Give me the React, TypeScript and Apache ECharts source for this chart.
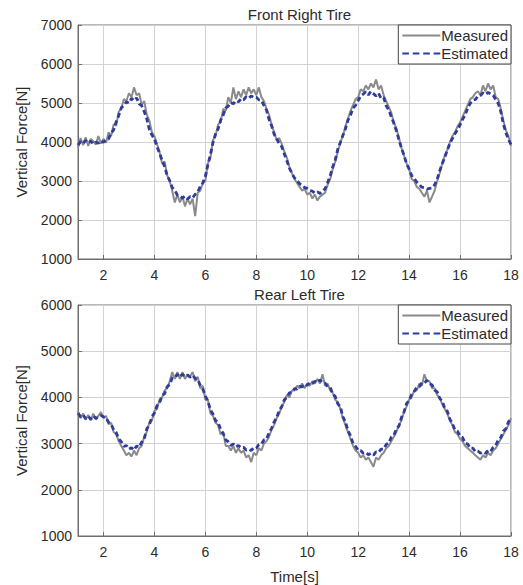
import React, { useEffect, useRef } from "react";
import * as echarts from "echarts";

// Sampling: t = 1.0 .. 18.0 s, step 0.1 s
const T_START = 1;
const T_STEP = 0.1;

const X_TICKS = [2, 4, 6, 8, 10, 12, 14, 16, 18];

const TITLE_TOP = "Front Right Tire";
const TITLE_BOTTOM = "Rear Left Tire";
const LEGEND_NAMES = ["Measured", "Estimated"];

// Front Right Tire — measured vertical force [N]
const FR_MEAS = [
  3850, 4100, 3920, 4120, 3900, 4080, 4020, 3930, 4150, 3960,
  4080, 3980, 4250, 4150, 4450, 4420, 4780, 4850, 5100, 5050,
  5250, 5150, 5400, 5200, 5250, 4950, 5050, 4700, 4550, 4250,
  4150, 3950, 3750, 3450, 3500, 3150, 3000, 2750, 2450, 2650,
  2450, 2600, 2350, 2550, 2400, 2550, 2100, 2700, 2750, 2950,
  3000, 3450, 3600, 4050, 4150, 4450, 4500, 4850, 4800, 5150,
  5000, 5400, 5100, 5300, 5150, 5350, 5200, 5400, 5250, 5350,
  5200, 5400, 5150, 5050, 4850, 4700, 4450, 4250, 4050, 4100,
  3950, 3750, 3600, 3350, 3200, 3050, 2950, 2850, 2750, 2800,
  2650, 2700, 2550, 2650, 2500, 2600, 2650, 2700, 2900, 3050,
  3300, 3500, 3750, 4000, 4150, 4400, 4600, 4800, 4950, 5100,
  5150, 5350, 5300, 5450, 5350, 5500, 5400, 5600, 5350, 5450,
  5200, 5050, 4900, 4750, 4500, 4350, 4100, 3850, 3650, 3450,
  3300, 3050, 3000, 2850, 2800, 2700, 2600, 2750, 2450, 2600,
  2750, 3000, 3200, 3450, 3650, 3800, 4000, 4150, 4250, 4400,
  4500, 4650, 4800, 4950, 5100, 5150, 5250, 5300, 5200, 5450,
  5300, 5500, 5350, 5450, 5150, 5100, 4850, 4550, 4300, 4150,
  3900,
];

// Front Right Tire — estimated vertical force [N]
const FR_EST = [
  3920, 4010, 3960, 4040, 3980, 4020, 3950, 4000, 3970, 4030,
  3990, 4060, 4080, 4230, 4310, 4520, 4680, 4880, 4930, 5030,
  5000, 5120, 5060, 5130, 4980, 4930, 4780, 4600, 4320, 4180,
  4080, 3880, 3720, 3530, 3370, 3140, 3010, 2830, 2760, 2640,
  2620, 2560, 2610, 2540, 2600, 2570, 2660, 2720, 2860, 2950,
  3120, 3420, 3680, 3990, 4210, 4330, 4560, 4690, 4870, 4920,
  5010, 4980, 5060, 5030, 5110, 5080, 5160, 5120, 5180, 5140,
  5150, 5080, 5070, 4940, 4820, 4580, 4420, 4200, 4080, 3960,
  3880, 3690, 3520, 3330, 3190, 3080, 3010, 2930, 2900, 2830,
  2810, 2760, 2740, 2690, 2720, 2680, 2750, 2800, 2960, 3130,
  3360, 3540, 3820, 3990, 4170, 4340, 4560, 4690, 4870, 4940,
  5060, 5180, 5230, 5290, 5210, 5300, 5240, 5180, 5250, 5120,
  5140, 4930, 4820, 4650, 4480, 4290, 4060, 3840, 3660, 3440,
  3310, 3140, 3060, 2970, 2910, 2840, 2830, 2790, 2810, 2820,
  2900, 3040, 3260, 3440, 3610, 3790, 3960, 4090, 4210, 4310,
  4440, 4580, 4690, 4870, 4990, 5070, 5090, 5170, 5190, 5260,
  5220, 5270, 5230, 5200, 5090, 4990, 4780, 4460, 4240, 4060,
  3940,
];

// Rear Left Tire — measured vertical force [N]
const RL_MEAS = [
  3700, 3550, 3650, 3520, 3620, 3500, 3650, 3520, 3600, 3680,
  3550, 3600, 3420, 3450, 3250, 3200, 3050, 2950, 2850, 2750,
  2800, 2720, 2850, 2750, 2900, 2950, 3150, 3250, 3450, 3500,
  3700, 3750, 3950, 4000, 4150, 4200, 4350, 4550, 4400, 4550,
  4400, 4550, 4400, 4500, 4450, 4550, 4350, 4450, 4200, 4250,
  3950, 3950, 3650, 3600, 3450, 3400, 3200, 3250, 2950, 2950,
  2850, 2950, 2800, 2900, 2800, 2850, 2700, 2750, 2600, 2800,
  2750, 2900, 2850, 3000, 3050, 3150, 3300, 3400, 3550, 3650,
  3800, 3900, 4050, 4000, 4150, 4150, 4250, 4200, 4300, 4200,
  4300, 4250, 4350, 4300, 4400, 4300, 4500, 4250, 4300, 4150,
  4100, 3950, 3900, 3750, 3550, 3400, 3250, 3100, 2950, 2850,
  2800, 2700, 2750, 2650, 2700, 2600, 2500, 2700, 2650, 2750,
  2800, 2900, 2950, 3050, 3150, 3250, 3400, 3500, 3700, 3800,
  3950, 4000, 4150, 4150, 4300, 4250, 4500, 4350, 4350, 4200,
  4200, 4050, 4000, 3850, 3750, 3650, 3500, 3400, 3250, 3200,
  3100, 3050, 2950, 2900, 2850, 2800, 2750, 2700, 2650, 2750,
  2700, 2800, 2750, 2850, 2900, 3000, 3100, 3200, 3300, 3400,
  3550,
];

// Rear Left Tire — estimated vertical force [N]
const RL_EST = [
  3660, 3580, 3620, 3540, 3590, 3530, 3600, 3550, 3570, 3610,
  3580, 3560, 3460, 3420, 3300, 3240, 3100, 3040, 2940, 2960,
  2880, 2910, 2860, 2950, 2920, 3030, 3100, 3320, 3400, 3580,
  3660, 3820, 3880, 4040, 4080, 4230, 4280, 4420, 4430, 4500,
  4440, 4500, 4450, 4480, 4440, 4480, 4410, 4390, 4260, 4180,
  4030, 3920, 3730, 3640, 3500, 3460, 3310, 3220, 3080, 3040,
  2960, 2990, 2930, 2960, 2910, 2920, 2860, 2880, 2850, 2910,
  2900, 2980, 2990, 3080, 3100, 3230, 3330, 3470, 3560, 3720,
  3800, 3950, 4000, 4100, 4110, 4190, 4180, 4240, 4230, 4290,
  4260, 4320, 4300, 4350, 4320, 4380, 4320, 4310, 4230, 4220,
  4080, 4020, 3860, 3800, 3580, 3470, 3280, 3170, 3000, 2940,
  2850, 2850, 2790, 2810, 2760, 2790, 2750, 2820, 2810, 2880,
  2880, 2980, 3010, 3140, 3180, 3320, 3380, 3570, 3680, 3870,
  3930, 4070, 4130, 4220, 4230, 4320, 4310, 4370, 4300, 4270,
  4160, 4120, 3980, 3920, 3760, 3700, 3530, 3430, 3300, 3270,
  3160, 3130, 3010, 2990, 2900, 2900, 2830, 2840, 2790, 2820,
  2790, 2850, 2830, 2920, 2960, 3080, 3130, 3270, 3320, 3470,
  3540,
];

const FONT = "'Liberation Sans', Arial, Helvetica, sans-serif";
const GRAY = "#8a8a8a";
const BLUE = "#2f3c9e";
const AXIS_COLOR = "#6e6e6e";
const GRID_COLOR = "#d2d2d2";
const TEXT_COLOR = "#2b2b2b";

const ICON_SOLID = "path://M0,0h40v2h-40z";
const ICON_DASHED = "path://M0,0h7v2h-7z M11,0h7v2h-7z M22,0h7v2h-7z M33,0h7v2h-7z";

function pairs(values: number[]): [number, number][] {
  return values.map((v, i) => [Number((T_START + i * T_STEP).toFixed(1)), v]);
}

export default function App() {
  const ref = useRef<HTMLDivElement>(null);

  useEffect(() => {
    document.body.style.margin = "0";
    if (!ref.current) return;
    const chart = echarts.init(ref.current, undefined, { renderer: "svg" });

    const gridLeft = 78;
    const gridWidth = 433;

    const xAxisBase = (gridIndex: number, withName: boolean) => ({
      type: "value",
      gridIndex,
      min: 1,
      max: 18,
      name: withName ? "Time[s]" : "",
      nameLocation: "middle",
      nameGap: 33,
      nameTextStyle: { fontFamily: FONT, fontSize: 15, color: TEXT_COLOR },
      axisLine: { show: true, lineStyle: { color: AXIS_COLOR, width: 1 } },
      axisTick: {
        show: true,
        inside: true,
        length: 4,
        customValues: X_TICKS,
        lineStyle: { color: AXIS_COLOR },
      },
      axisLabel: {
        customValues: X_TICKS,
        fontFamily: FONT,
        fontSize: 14,
        color: TEXT_COLOR,
        margin: 9,
      },
      splitLine: { show: true, lineStyle: { color: GRID_COLOR, width: 1 } },
    });

    const yAxisBase = (gridIndex: number, max: number) => ({
      type: "value",
      gridIndex,
      min: 1000,
      max,
      interval: 1000,
      name: "Vertical Force[N]",
      nameLocation: "middle",
      nameGap: 49,
      nameTextStyle: { fontFamily: FONT, fontSize: 15, color: TEXT_COLOR },
      axisLine: { show: true, lineStyle: { color: AXIS_COLOR, width: 1 } },
      axisTick: { show: true, inside: true, length: 4, lineStyle: { color: AXIS_COLOR } },
      axisLabel: {
        fontFamily: FONT,
        fontSize: 14,
        color: TEXT_COLOR,
        margin: 6,
        formatter: (v: number) => String(v),
      },
      splitLine: { show: true, lineStyle: { color: GRID_COLOR, width: 1 } },
    });

    const legendBase = (top: number) => ({
      data: [
        { name: LEGEND_NAMES[0], icon: ICON_SOLID },
        { name: LEGEND_NAMES[1], icon: ICON_DASHED },
      ],
      orient: "vertical",
      right: 12,
      top,
      backgroundColor: "#ffffff",
      borderColor: "#444",
      borderWidth: 1,
      borderRadius: 0,
      padding: [3, 3, 3, 4],
      itemGap: 3,
      itemWidth: 38,
      itemHeight: 2,
      textStyle: { fontFamily: FONT, fontSize: 15, color: TEXT_COLOR, padding: [0, 0, 0, -4] },
    });

    const measured = (xi: number, data: number[]) => ({
      name: "Measured",
      type: "line",
      xAxisIndex: xi,
      yAxisIndex: xi,
      data: pairs(data),
      symbol: "none",
      z: 2,
      lineStyle: { color: GRAY, width: 2 },
      itemStyle: { color: GRAY },
    });

    const estimated = (xi: number, data: number[]) => ({
      name: "Estimated",
      type: "line",
      xAxisIndex: xi,
      yAxisIndex: xi,
      data: pairs(data),
      symbol: "none",
      z: 3,
      lineStyle: { color: BLUE, width: 2.8, type: [5, 3] },
      itemStyle: { color: BLUE },
    });

    chart.setOption({
      animation: false,
      backgroundColor: "#ffffff",
      textStyle: { fontFamily: FONT },
      title: [
        {
          text: TITLE_TOP,
          left: gridLeft + gridWidth / 2,
          top: 2,
          textAlign: "center",
          textStyle: { fontFamily: FONT, fontSize: 15, fontWeight: "normal", color: TEXT_COLOR },
        },
        {
          text: TITLE_BOTTOM,
          left: gridLeft + gridWidth / 2,
          top: 282,
          textAlign: "center",
          textStyle: { fontFamily: FONT, fontSize: 15, fontWeight: "normal", color: TEXT_COLOR },
        },
      ],
      legend: [legendBase(25), legendBase(305)],
      grid: [
        {
          left: gridLeft,
          top: 25,
          width: gridWidth,
          height: 234,
          show: true,
          borderColor: AXIS_COLOR,
          borderWidth: 1,
          backgroundColor: "#ffffff",
        },
        {
          left: gridLeft,
          top: 305,
          width: gridWidth,
          height: 235,
          show: true,
          borderColor: AXIS_COLOR,
          borderWidth: 1,
          backgroundColor: "#ffffff",
        },
      ],
      xAxis: [xAxisBase(0, false), xAxisBase(1, true)],
      yAxis: [yAxisBase(0, 7000), yAxisBase(1, 6000)],
      series: [
        measured(0, FR_MEAS),
        estimated(0, FR_EST),
        measured(1, RL_MEAS),
        estimated(1, RL_EST),
      ],
    });

    return () => chart.dispose();
  }, []);

  return <div ref={ref} style={{ width: 523, height: 585 }} />;
}
